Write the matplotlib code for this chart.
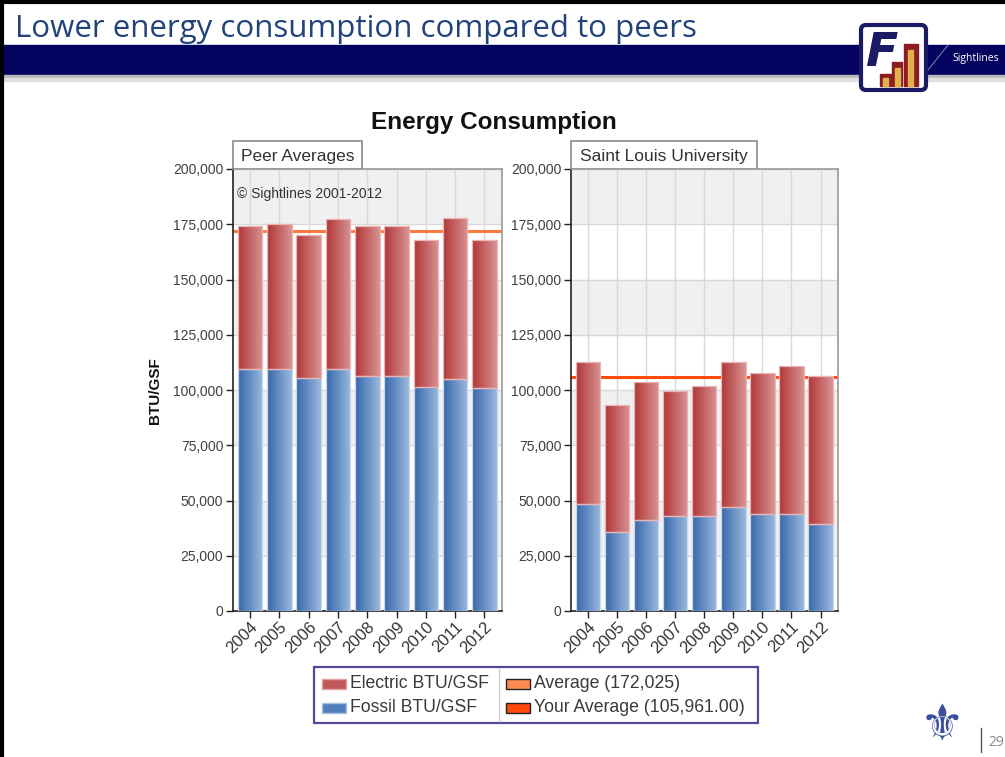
import numpy as np
import matplotlib
matplotlib.use('Agg')
import matplotlib.pyplot as plt
import matplotlib.patches as mpatches
from matplotlib.colors import LinearSegmentedColormap
from matplotlib.ticker import FuncFormatter, MultipleLocator

# ---- data (BTU/GSF) ----
years = ['2004', '2005', '2006', '2007', '2008', '2009', '2010', '2011', '2012']
peer_fossil = [109600, 109600, 105400, 109600, 106400, 106200, 101200, 104800, 101000]
peer_electric = [64800, 65400, 64800, 67800, 68000, 68200, 66600, 73200, 66800]
slu_fossil = [48600, 35900, 41000, 42800, 43100, 47000, 44100, 43800, 39500]
slu_electric = [64200, 57300, 62700, 56700, 58600, 65800, 63400, 66900, 66900]
peer_avg = 172025
slu_avg = 105961
panel_names = ['Peer Averages', 'Saint Louis University']
series_names = ['Electric BTU/GSF', 'Fossil BTU/GSF']
avg_names = ['Average (172,025)', 'Your Average (105,961.00)']

W, H = 1005, 757
FONT = 'Liberation Sans'
RED = ('#b03636', '#d99393')
BLUE = ('#3768ab', '#9ab8de')


def fx(x):
    return x / W


def fy(y):
    return 1 - y / H


fig = plt.figure(figsize=(W / 100, H / 100), dpi=100)

# background layer in pixel coordinates for the slide furniture
bg = fig.add_axes([0, 0, 1, 1], zorder=0)
bg.set_xlim(0, W)
bg.set_ylim(H, 0)
bg.axis('off')

bg.add_patch(mpatches.Rectangle((4, 45), W, 30, color='#04035f', zorder=1))
bg.add_patch(mpatches.Rectangle((4, 75), W, 3, color='#b8b8b8', zorder=1))
bg.add_patch(mpatches.Rectangle((4, 78), W, 3, color='#e0e0e0', zorder=1))
bg.plot([1.5, 1.5], [0, H], color='black', lw=3, zorder=2)
bg.plot([0, W], [1.5, 1.5], color='black', lw=3, zorder=2)
bg.text(15, 29, 'Lower energy consumption compared to peers', fontsize=22.5,
        family='Open Sans', color='#22427a', va='center', ha='left')

# Sightlines logo (simplified)
bg.plot([928, 948], [70, 45], color='#8888aa', lw=0.7, zorder=2)
bg.text(952, 58, 'Sightlines', color='white', fontsize=7.5, va='center', ha='left',
        family='Open Sans', zorder=3)
bg.add_patch(mpatches.FancyBboxPatch((861, 25), 65, 65, boxstyle='round,pad=0,rounding_size=5',
                                     fc='white', ec='#1b1a64', lw=3, zorder=3))
bg.text(866, 54, 'F', fontsize=34, fontweight='bold', style='italic', color='#1b1a64',
        family='DejaVu Sans', va='center', ha='left', zorder=4)
bg.add_patch(mpatches.Rectangle((904, 44), 14, 42, color='#8e1b24', zorder=4))
bg.add_patch(mpatches.Rectangle((908, 50), 5, 36, color='#e0b24c', zorder=5))
bg.add_patch(mpatches.Rectangle((892, 62), 10, 24, color='#8e1b24', zorder=4))
bg.add_patch(mpatches.Rectangle((895, 68), 5, 18, color='#e0b24c', zorder=5))
bg.add_patch(mpatches.Rectangle((880, 74), 11, 12, color='#8e1b24', zorder=4))
bg.add_patch(mpatches.Rectangle((883, 78), 5, 8, color='#e0b24c', zorder=5))

# SLU mark and page number
bg.text(942, 726, '\u269c', fontsize=36, color='#3b4e9c', family='DejaVu Sans',
        ha='center', va='center')
bg.plot([981, 981], [728, 752], color='#555555', lw=1)
bg.text(988, 743, '29', fontsize=10, color='#8a8a8a', family='Open Sans', va='center')

# chart title and shared y label
bg.text(494, 122, 'Energy Consumption', fontsize=17.5, fontweight='bold',
        family=FONT, ha='center', va='center', color='#111111')
bg.text(155, 391, 'BTU/GSF', fontsize=11, fontweight='bold', family=FONT,
        rotation=90, ha='center', va='center', color='#111111')


def draw_panel(rect, fossil, electric, avg, avg_color, name, name_box, copyright_text):
    ax = fig.add_axes(rect, zorder=1)
    x = np.arange(len(years))
    width = 0.84
    # alternating background bands
    for lo in range(0, 200000, 25000):
        if (lo // 25000) % 2 == 1:
            ax.axhspan(lo, lo + 25000, color='#f0f0f0', zorder=0, lw=0)
    ax.grid(True, color='#d8d8d8', lw=1, zorder=0.5)
    ax.set_axisbelow(True)
    ax.axhline(avg, color=avg_color, lw=2.2, zorder=1)

    for bottoms, vals, cols, edge in [(np.zeros(len(x)), fossil, BLUE, '#c8d8ee'),
                                      (np.array(fossil), electric, RED, '#ecb4b4')]:
        bars = ax.bar(x, vals, width, bottom=bottoms, color=cols[0],
                      edgecolor=edge, lw=0.9, zorder=3)
        cmap = LinearSegmentedColormap.from_list('g', [cols[0], cols[1]])
        grad = np.linspace(0, 1, 64).reshape(1, -1)
        for b in bars:
            im = ax.imshow(grad, cmap=cmap, aspect='auto', zorder=2.9,
                           extent=[b.get_x(), b.get_x() + b.get_width(),
                                   b.get_y(), b.get_y() + b.get_height()])
            im.set_clip_path(b)
            b.set_facecolor('none')

    ax.set_xlim(-0.58, 8.6)
    ax.set_ylim(0, 200000)
    ax.set_xticks(x)
    ax.set_xticklabels(years, rotation=45, ha='right', rotation_mode='anchor',
                       fontsize=12, family=FONT, color='#333333')
    ax.yaxis.set_major_locator(MultipleLocator(25000))
    ax.yaxis.set_major_formatter(FuncFormatter(lambda v, p: f'{int(v):,}'))
    for lab in ax.get_yticklabels():
        lab.set_fontsize(10)
        lab.set_family(FONT)
        lab.set_color('#404040')
    ax.tick_params(axis='both', direction='out', length=5, width=1, color='#222222', pad=2)
    ax.tick_params(axis='x', pad=1)
    for side in ['left', 'bottom']:
        ax.spines[side].set_color('#222222')
        ax.spines[side].set_linewidth(1.2)
    for side in ['top', 'right']:
        ax.spines[side].set_color('#9a9a9a')
        ax.spines[side].set_linewidth(1.2)

    if copyright_text:
        ax.text(0.015, 0.96, copyright_text, transform=ax.transAxes, fontsize=10,
                family=FONT, color='#333333', va='top', ha='left')

    bx0, bx1 = name_box
    bg.add_patch(mpatches.Rectangle((bx0, 141), bx1 - bx0, 28, fc='white',
                                    ec='#8a8a8a', lw=1.2, zorder=3))
    bg.text((bx0 + bx1) / 2, 156, name, fontsize=12.5, family=FONT, color='#333333',
            ha='center', va='center', zorder=4)
    return ax


draw_panel([fx(233), fy(611), fx(502 - 233), (611 - 169) / H], peer_fossil, peer_electric,
           peer_avg, '#ff7a3c', panel_names[0], (233, 362), '\u00a9 Sightlines 2001-2012')
draw_panel([fx(571), fy(611), fx(838 - 571), (611 - 169) / H], slu_fossil, slu_electric,
           slu_avg, '#ff4a0a', panel_names[1], (571, 757), None)

# legend
bg.add_patch(mpatches.Rectangle((314, 667), 444, 56, fc='white', ec='#55489a', lw=1.6, zorder=3))
bg.plot([499, 499], [669, 721], color='#cfcfcf', lw=1, zorder=4)
items = [(322, 684, '#c05858', '#e0a0a0', series_names[0]),
         (322, 708, '#4f7fbd', '#a8c0e0', series_names[1]),
         (506, 684, '#ff8a50', '#222222', avg_names[0]),
         (506, 708, '#ff4a0a', '#222222', avg_names[1])]
for sx, sy, fc, ec, lab in items:
    bg.add_patch(mpatches.Rectangle((sx, sy - 5), 24, 10, fc=fc, ec=ec, lw=1, zorder=4))
    bg.text(sx + 28, sy, lab, fontsize=12.7, family=FONT, color='#3a3a3a',
            va='center', ha='left', zorder=4)

fig.savefig('out.png', dpi=100)
